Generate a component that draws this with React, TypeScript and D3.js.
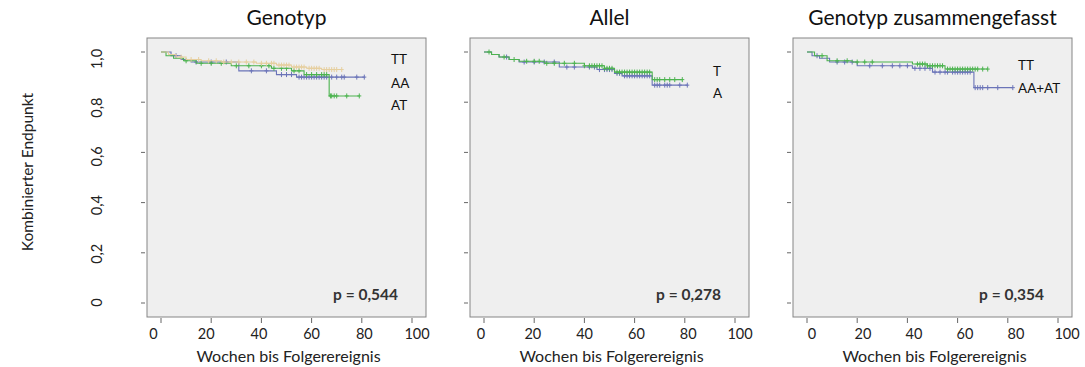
import React from 'react';
import * as d3 from 'd3';

// Kaplan-Meier step data (weeks, survival)
const genoTTTimes = [0, 3, 6, 10, 16, 24, 38, 46, 52, 58, 64, 72];
const genoTTSurv = [1.0, 0.99, 0.98, 0.97, 0.965, 0.96, 0.955, 0.948, 0.94, 0.935, 0.93, 0.93];
const genoTTCens = [8, 12, 15, 19, 22, 25, 28, 31, 34, 37, 40, 42, 44, 45, 47, 48, 49, 50, 51, 53, 54, 55, 56, 57, 59, 60, 61, 62, 63, 65, 66, 67, 68, 69, 70, 72];

const genoAATimes = [0, 4, 8, 12, 31, 46, 54, 81];
const genoAASurv = [1.0, 0.985, 0.97, 0.96, 0.925, 0.91, 0.9, 0.9];
const genoAACens = [6, 14, 20, 26, 36, 42, 48, 50, 52, 55, 56, 57, 58, 59, 60, 61, 62, 63, 64, 65, 66, 68, 70, 72, 73, 78, 81];

const genoATTimes = [0, 2, 5, 9, 14, 28, 44, 52, 57, 67, 79];
const genoATSurv = [1.0, 0.985, 0.975, 0.965, 0.955, 0.945, 0.935, 0.925, 0.91, 0.825, 0.825];
const genoATCens = [10, 16, 20, 24, 30, 35, 40, 43, 45, 48, 50, 53, 55, 58, 60, 62, 64, 65, 66, 67.5, 68, 69, 70, 74, 79];

const alleleTTimes = [0, 3, 6, 10, 14, 24, 40, 48, 52, 67, 79];
const alleleTSurv = [1.0, 0.99, 0.98, 0.97, 0.963, 0.955, 0.945, 0.935, 0.92, 0.89, 0.89];
const alleleTCens = [2, 8, 12, 17, 20, 22, 25, 28, 32, 36, 40, 42, 43, 44, 45, 46, 47, 48, 49, 50, 51, 53, 54, 55, 56, 57, 58, 59, 60, 61, 62, 63, 64, 65, 66, 68, 69, 70, 72, 74, 76, 79];

const alleleATimes = [0, 3, 6, 10, 14, 30, 45, 52, 55, 67, 81];
const alleleASurv = [1.0, 0.99, 0.98, 0.97, 0.96, 0.94, 0.93, 0.915, 0.905, 0.868, 0.868];
const alleleACens = [9, 16, 20, 24, 28, 33, 36, 42, 44, 46, 48, 49, 50, 51, 53, 54, 56, 57, 58, 59, 60, 61, 62, 63, 64, 65, 66, 68, 69, 70, 72, 73, 74, 78, 81];

const combTTTimes = [0, 3, 8, 18, 42, 48, 55, 72];
const combTTSurv = [1.0, 0.985, 0.965, 0.96, 0.952, 0.945, 0.932, 0.932];
const combTTCens = [6, 12, 16, 20, 23, 26, 44, 45, 46, 47, 48, 49, 50, 51, 52, 53, 54, 56, 57, 58, 59, 60, 61, 62, 63, 64, 65, 66, 67, 68, 70, 72];

const combAATimes = [0, 2, 5, 9, 20, 42, 50, 66.5, 82];
const combAASurv = [1.0, 0.985, 0.975, 0.96, 0.945, 0.935, 0.92, 0.858, 0.858];
const combAACens = [4, 12, 15, 18, 25, 30, 34, 37, 40, 43, 45, 47, 49, 51, 53, 55, 56, 58, 59, 60, 61, 62, 63, 64, 65, 67, 68, 69, 70, 72, 76, 82];

const panelTitles = ['Genotyp', 'Allel', 'Genotyp zusammengefasst'];
const pValues = ['p = 0,544', 'p = 0,278', 'p = 0,354'];
const xTicks = [0, 20, 40, 60, 80, 100];
const yTicks = [0, 0.2, 0.4, 0.6, 0.8, 1.0];
const yTickLabels = ['0', '0,2', '0,4', '0,6', '0,8', '1,0'];

const BLUE = '#6b74b8';
const GREEN = '#4cb34f';
const BEIGE = '#e6cf9f';
const FONT = 'Lato, "Open Sans", sans-serif';

type Series = { label: string; times: number[]; surv: number[]; cens: number[]; color: string; ly: number };

const panels: { left: number; labelRange: [number, number]; legendX: number; series: Series[] }[] = [
  {
    left: 147, labelRange: [153.5, 417], legendX: 391,
    series: [
      { label: 'AA', times: genoAATimes, surv: genoAASurv, cens: genoAACens, color: BLUE, ly: 88 },
      { label: 'AT', times: genoATTimes, surv: genoATSurv, cens: genoATCens, color: GREEN, ly: 110 },
      { label: 'TT', times: genoTTTimes, surv: genoTTSurv, cens: genoTTCens, color: BEIGE, ly: 64 },
    ],
  },
  {
    left: 470, labelRange: [481, 740], legendX: 713,
    series: [
      { label: 'A', times: alleleATimes, surv: alleleASurv, cens: alleleACens, color: BLUE, ly: 98 },
      { label: 'T', times: alleleTTimes, surv: alleleTSurv, cens: alleleTCens, color: GREEN, ly: 76 },
    ],
  },
  {
    left: 793, labelRange: [812, 1067], legendX: 1018,
    series: [
      { label: 'AA+AT', times: combAATimes, surv: combAASurv, cens: combAACens, color: BLUE, ly: 93 },
      { label: 'TT', times: combTTTimes, surv: combTTSurv, cens: combTTCens, color: GREEN, ly: 70 },
    ],
  },
];

const BOX_W = 279;
const TOP = 38;
const BOTTOM = 317;

const y = d3.scaleLinear().domain([0, 1]).range([303, 52]);
const yLabel = d3.scaleLinear().domain([0, 1]).range([302.5, 59]);

function Panel({ idx }: { idx: number }) {
  const p = panels[idx];
  const L = p.left;
  const x = d3.scaleLinear().domain([0, 100]).range([L + 14, L + 265]);
  const xl = d3.scaleLinear().domain([0, 100]).range(p.labelRange);
  const line = d3
    .line<[number, number]>()
    .x((d) => x(d[0]))
    .y((d) => y(d[1]))
    .curve(d3.curveStepAfter);
  return (
    <g>
      <text x={L + BOX_W / 2} y={25} textAnchor="middle" fontSize={21} fontFamily={FONT} fill="#111">
        {panelTitles[idx]}
      </text>
      <rect x={L} y={TOP} width={BOX_W} height={BOTTOM - TOP} fill="#efefef" stroke="#858585" strokeWidth={1} />
      {yTicks.map((t) => (
        <line key={t} x1={L - 6} x2={L - 2} y1={y(t)} y2={y(t)} stroke="#666" />
      ))}
      {xTicks.map((t) => (
        <g key={t}>
          <line x1={x(t)} x2={x(t)} y1={BOTTOM + 1} y2={BOTTOM + 6} stroke="#666" />
          <text x={xl(t)} y={339} textAnchor="middle" fontSize={14.5} fontFamily={FONT} fill="#222">
            {t}
          </text>
        </g>
      ))}
      <text x={L + BOX_W / 2 + 2} y={362} textAnchor="middle" fontSize={16} fontFamily={FONT} fill="#222">
        Wochen bis Folgerereignis
      </text>
      {p.series.map((s) => {
        const pts = s.times.map((t, i) => [t, s.surv[i]] as [number, number]);
        return (
          <g key={s.label}>
            <path d={line(pts) ?? ''} fill="none" stroke={s.color} strokeWidth={1.1} />
            {s.cens.map((c, i) => {
              const k = Math.max(0, d3.bisectRight(s.times, c) - 1);
              const cx = x(c);
              const cy = y(s.surv[k]);
              return (
                <path key={i} d={`M${cx - 2},${cy}H${cx + 2}M${cx},${cy - 2.5}V${cy + 2.5}`} stroke={s.color} strokeWidth={1} />
              );
            })}
          </g>
        );
      })}
      {p.series.map((s) => (
        <text key={s.label} x={p.legendX} y={s.ly} fontSize={13.5} fontFamily={FONT} fill="#111">
          {s.label}
        </text>
      ))}
      <text x={L + 251} y={300} textAnchor="end" fontSize={15.5} fontWeight="bold" fontFamily={FONT} fill="#333">
        {pValues[idx]}
      </text>
    </g>
  );
}

export default function App() {
  return (
    <svg width={1085} height={367} style={{ position: 'absolute', left: 0, top: 0, background: '#fff' }}>
      <text transform="translate(33,172) rotate(-90)" textAnchor="middle" fontSize={15.5} fontFamily={FONT} fill="#222">
        Kombinierter Endpunkt
      </text>
      {yTicks.map((t, i) => (
        <text key={t} transform={`translate(${102},${yLabel(t)}) rotate(-90)`} textAnchor="middle" fontSize={14.5} fontFamily={FONT} fill="#222">
          {yTickLabels[i]}
        </text>
      ))}
      {panels.map((_, i) => (
        <Panel key={i} idx={i} />
      ))}
    </svg>
  );
}
